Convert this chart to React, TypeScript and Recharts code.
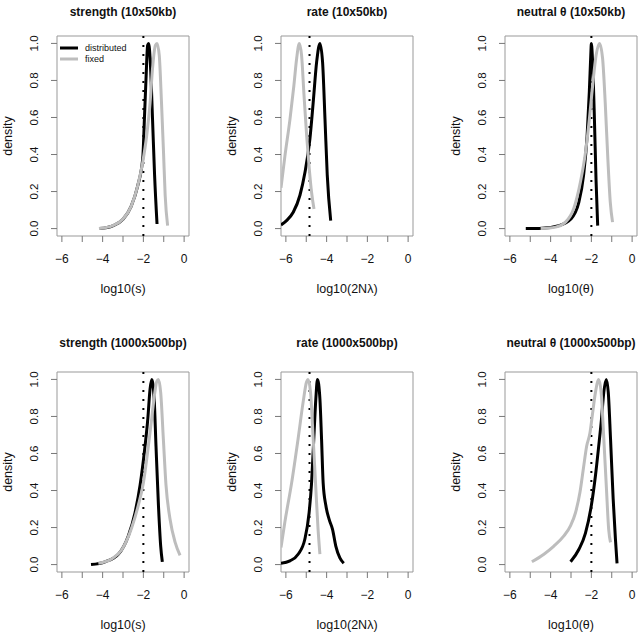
import {
  LineChart,
  Line,
  XAxis,
  YAxis,
  ReferenceLine,
  ReferenceArea,
  Label,
} from "recharts";

type Pt = [number, number];

// strength (10x50kb)
const strength10Dist: Pt[] = [
  [-4.15, 0], [-3.5, 0.015], [-3.0, 0.05], [-2.6, 0.12], [-2.28, 0.23], [-2.03, 0.38],
  [-1.95, 0.59], [-1.87, 0.81], [-1.79, 0.99], [-1.74, 1.0], [-1.66, 0.9], [-1.55, 0.59],
  [-1.45, 0.29], [-1.33, 0.025],
];
const strength10Fixed: Pt[] = [
  [-4.18, 0], [-3.5, 0.016], [-3.01, 0.05], [-2.6, 0.12], [-2.28, 0.23], [-2.03, 0.36],
  [-1.84, 0.5], [-1.67, 0.68], [-1.55, 0.865], [-1.41, 0.99], [-1.33, 1.0], [-1.22, 0.935],
  [-1.11, 0.68], [-1.01, 0.41], [-0.93, 0.18], [-0.81, 0.016],
];

// rate (10x50kb)
const rate10Dist: Pt[] = [
  [-6.24, 0.02], [-5.97, 0.043], [-5.64, 0.088], [-5.31, 0.18], [-5.07, 0.3], [-4.82, 0.485],
  [-4.66, 0.68], [-4.49, 0.9], [-4.33, 1.0], [-4.2, 0.9], [-4.08, 0.59], [-3.97, 0.29],
  [-3.8, 0.043],
];
const rate10Fixed: Pt[] = [
  [-6.24, 0.22], [-6.05, 0.39], [-5.8, 0.59], [-5.61, 0.77], [-5.47, 0.92], [-5.34, 1.0],
  [-5.23, 0.935], [-5.11, 0.72], [-4.98, 0.5], [-4.85, 0.32], [-4.74, 0.196], [-4.62, 0.106],
];

// neutral theta (10x50kb)
const theta10Dist: Pt[] = [
  [-5.22, 0], [-4.57, 0], [-3.6, 0.016], [-3.02, 0.05], [-2.62, 0.14], [-2.38, 0.29],
  [-2.21, 0.5], [-2.1, 0.74], [-2.03, 0.935], [-2.0, 1.0], [-1.94, 0.9], [-1.85, 0.59],
  [-1.77, 0.26], [-1.69, 0.016],
];
const theta10Fixed: Pt[] = [
  [-4.49, 0], [-3.76, 0.008], [-3.27, 0.035], [-2.86, 0.11], [-2.54, 0.25], [-2.29, 0.41],
  [-2.1, 0.59], [-1.94, 0.77], [-1.77, 0.935], [-1.6, 1.0], [-1.45, 0.92], [-1.32, 0.68],
  [-1.19, 0.375], [-1.07, 0.14], [-0.96, 0.035],
];

// strength (1000x500bp)
const strength1000Dist: Pt[] = [
  [-4.57, 0], [-3.88, 0.015], [-3.23, 0.056], [-2.74, 0.155], [-2.41, 0.28], [-2.16, 0.43],
  [-1.95, 0.61], [-1.78, 0.79], [-1.67, 0.95], [-1.59, 1.0], [-1.47, 0.895], [-1.38, 0.64],
  [-1.26, 0.32], [-1.15, 0.1], [-1.07, 0.015],
];
const strength1000Fixed: Pt[] = [
  [-4.21, 0.007], [-3.56, 0.03], [-3.06, 0.08], [-2.57, 0.2], [-2.25, 0.32], [-2.0, 0.44],
  [-1.8, 0.6], [-1.6, 0.78], [-1.45, 0.92], [-1.34, 0.99], [-1.26, 1.0], [-1.15, 0.93],
  [-1.02, 0.68], [-0.89, 0.43], [-0.69, 0.245], [-0.44, 0.12], [-0.2, 0.05],
];

// rate (1000x500bp)
const rate1000Dist: Pt[] = [
  [-6.24, 0.007], [-5.8, 0.02], [-5.4, 0.056], [-5.07, 0.137], [-4.86, 0.28], [-4.74, 0.44],
  [-4.63, 0.68], [-4.53, 0.895], [-4.45, 1.0], [-4.33, 0.895], [-4.25, 0.68], [-4.17, 0.44],
  [-4.04, 0.32], [-3.88, 0.245], [-3.71, 0.19], [-3.55, 0.1], [-3.35, 0.036], [-3.16, 0.007],
];
const rate1000Fixed: Pt[] = [
  [-6.24, 0.092], [-6.05, 0.23], [-5.72, 0.44], [-5.4, 0.68], [-5.15, 0.88], [-4.99, 0.985],
  [-4.91, 1.0], [-4.79, 0.93], [-4.66, 0.68], [-4.53, 0.41], [-4.42, 0.19], [-4.33, 0.056],
];

// neutral theta (1000x500bp)
const theta1000Dist: Pt[] = [
  [-3.02, 0.015], [-2.61, 0.083], [-2.29, 0.17], [-2.0, 0.32], [-1.8, 0.48], [-1.64, 0.64],
  [-1.5, 0.79], [-1.39, 0.93], [-1.27, 1.0], [-1.17, 0.93], [-1.06, 0.68], [-0.93, 0.355],
  [-0.82, 0.14], [-0.74, 0.007],
];
const theta1000Fixed: Pt[] = [
  [-4.92, 0.015], [-4.33, 0.056], [-3.84, 0.1], [-3.35, 0.155], [-3.02, 0.21], [-2.78, 0.28],
  [-2.56, 0.39], [-2.39, 0.52], [-2.23, 0.64], [-2.07, 0.71], [-1.96, 0.8], [-1.8, 0.93],
  [-1.64, 1.0], [-1.52, 0.93], [-1.39, 0.68], [-1.26, 0.41], [-1.15, 0.19], [-1.06, 0.12],
];

// true values (dotted lines)
const trueStrength = -2;
const trueRate = -4.84;
const trueTheta = -2;

const xTicks = [-6, -5, -4, -3, -2, -1, 0];
const yTicks = [0, 0.2, 0.4, 0.6, 0.8, 1];
const xDomain = [-6.24, 0.24];
const yDomain = [-0.04, 1.04];

const seriesNames = ["distributed", "fixed"];
const seriesColors = ["#000", "#bdbdbd"];

const panels = [
  { title: "strength (10x50kb)", xLabel: "log10(s)", dist: strength10Dist, fixed: strength10Fixed, truth: trueStrength },
  { title: "rate (10x50kb)", xLabel: "log10(2Nλ)", dist: rate10Dist, fixed: rate10Fixed, truth: trueRate },
  { title: "neutral θ (10x50kb)", xLabel: "log10(θ)", dist: theta10Dist, fixed: theta10Fixed, truth: trueTheta },
  { title: "strength (1000x500bp)", xLabel: "log10(s)", dist: strength1000Dist, fixed: strength1000Fixed, truth: trueStrength },
  { title: "rate (1000x500bp)", xLabel: "log10(2Nλ)", dist: rate1000Dist, fixed: rate1000Fixed, truth: trueRate },
  { title: "neutral θ (1000x500bp)", xLabel: "log10(θ)", dist: theta1000Dist, fixed: theta1000Fixed, truth: trueTheta },
];

const colLeft = [0, 224, 448];
const rowTop = [0, 336];
const titleGap = [24, 29];

const toRows = (pts: Pt[]) => pts.map(([x, y]) => ({ x, y }));

const fmtX = (v: number) => (v % 2 !== 0 ? "" : v < 0 ? `\u2212${-v}` : `${v}`);

const YTick = (p: any) => {
  const tx = p.x - 11.5;
  return (
    <text x={tx} y={p.y} transform={`rotate(-90 ${tx} ${p.y})`} textAnchor="middle" fontSize={11.5} fill="#111">
      {Number(p.payload.value).toFixed(1)}
    </text>
  );
};

// legend for the whole figure, drawn once inside the first panel's box
function KeyBox() {
  return (
    <svg width={90} height={26} style={{ position: "absolute", left: 60, top: 44 }}>
      {seriesNames.map((n, i) => (
        <g key={n}>
          <line x1={0} x2={18} y1={4 + i * 11} y2={4 + i * 11} stroke={seriesColors[i]} strokeWidth={3} />
          <text x={25} y={4 + i * 11} dy="0.35em" fontSize={9} fill="#111">
            {n}
          </text>
        </g>
      ))}
    </svg>
  );
}

function Panel({ p, idx }: { p: any; idx: number }) {
  const row = Math.floor(idx / 3);
  const col = idx % 3;
  const gap = titleGap[row];
  return (
    <div style={{ position: "absolute", left: colLeft[col], top: rowTop[row], width: 190, height: 298 }}>
      <LineChart width={190} height={298} margin={{ top: 36, right: 1, left: 27, bottom: 0 }}>
        <XAxis
          type="number"
          dataKey="x"
          domain={xDomain}
          allowDataOverflow
          ticks={xTicks}
          interval={0}
          tickFormatter={fmtX}
          axisLine={false}
          tickLine={{ stroke: "#777" }}
          tickSize={6}
          tickMargin={12}
          height={62}
          tick={{ fontSize: 12, fill: "#111" }}
          label={(lp: any) => {
            const vb = lp.viewBox;
            return (
              <text x={vb.x + vb.width / 2} y={vb.y + 57} textAnchor="middle" fontSize={12.5} fill="#111">
                {p.xLabel}
              </text>
            );
          }}
        />
        <YAxis
          type="number"
          domain={yDomain}
          allowDataOverflow
          ticks={yTicks}
          interval={0}
          axisLine={false}
          tickLine={{ stroke: "#777" }}
          tickSize={6}
          tickMargin={1}
          width={30}
          tick={YTick}
          label={(lp: any) => {
            const vb = lp.viewBox;
            const cx = vb.x + vb.width - 50 + 4.5;
            const cy = vb.y + vb.height / 2;
            return (
              <text x={cx} y={cy} transform={`rotate(-90 ${cx} ${cy})`} textAnchor="middle" fontSize={12.5} fill="#111">
                density
              </text>
            );
          }}
        />
        <ReferenceArea
          x1={xDomain[0]}
          x2={xDomain[1]}
          y1={yDomain[0]}
          y2={yDomain[1]}
          fill="none"
          stroke="#999"
          strokeWidth={1}
          ifOverflow="visible"
        >
          <Label
            content={(lp: any) => {
              const vb = lp.viewBox;
              return (
                <text x={vb.x + vb.width / 2} y={vb.y - gap + 4.3} textAnchor="middle" fontSize={12} fontWeight="bold" fill="#111">
                  {p.title}
                </text>
              );
            }}
          />
        </ReferenceArea>
        <ReferenceLine x={p.truth} stroke="#000" strokeWidth={2} strokeDasharray="2 7" />
        <Line
          data={toRows(p.dist)}
          dataKey="y"
          name={seriesNames[0]}
          type="monotone"
          stroke={seriesColors[0]}
          strokeWidth={3}
          dot={false}
          isAnimationActive={false}
        />
        <Line
          data={toRows(p.fixed)}
          dataKey="y"
          name={seriesNames[1]}
          type="monotone"
          stroke={seriesColors[1]}
          strokeWidth={3}
          dot={false}
          isAnimationActive={false}
        />
      </LineChart>
    </div>
  );
}

export default function App() {
  return (
    <div
      style={{
        position: "absolute",
        left: 0,
        top: 0,
        width: 638,
        height: 632,
        overflow: "hidden",
        background: "#fff",
        fontFamily: "'Liberation Sans', Arial, Helvetica, sans-serif",
      }}
    >
      {panels.map((p, i) => (
        <Panel key={i} p={p} idx={i} />
      ))}
      <KeyBox />
    </div>
  );
}
